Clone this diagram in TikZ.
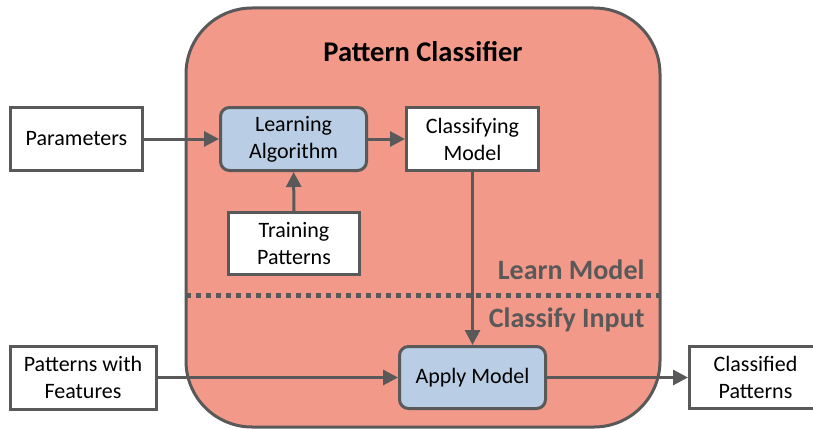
\documentclass[tikz,border=0pt]{standalone}
\usepackage{fontspec}
\setmainfont{Carlito}
\usetikzlibrary{arrows.meta}
\definecolor{salmon}{HTML}{F2998A}
\definecolor{lblue}{HTML}{B9CDE5}
\definecolor{dgray}{HTML}{595959}
\tikzset{
  box/.style={draw=dgray, line width=3pt, fill=white, inner sep=0pt,
    align=center, font=\fontsize{22}{27}\selectfont, text=black},
  rbox/.style={box, fill=lblue, rounded corners=9pt},
  conn/.style={draw=dgray, line width=3pt, -{Triangle[length=15pt,width=15pt]}},
  phase/.style={font=\fontsize{28}{32}\selectfont\bfseries, text=dgray, anchor=east}
}
\begin{document}
\begin{tikzpicture}[x=1pt,y=-1pt]
\useasboundingbox (0,0) rectangle (813,428);
% main container
\draw[draw=dgray, line width=3pt, fill=salmon, rounded corners=66pt] (186,8) rectangle (660,427);
\node[font=\fontsize{28.5}{32}\selectfont\bfseries] (title) at (423,52) {Pattern Classifier};
% nodes
\node[box, minimum width=132pt, minimum height=63pt] (par) at (76.5,139) {Parameters};
\node[rbox, minimum width=146pt, minimum height=63pt] (learn) at (293.5,139) {Learning\\Algorithm};
\node[box, minimum width=132pt, minimum height=63pt] (cmodel) at (472.5,139) {Classifying\\Model};
\node[box, minimum width=131pt, minimum height=62pt] (train) at (294,243.5) {Training\\Patterns};
\node[box, minimum width=146pt, minimum height=63pt] (pwf) at (83,377.5) {Patterns with\\Features};
\node[rbox, minimum width=146pt, minimum height=62pt] (apply) at (472.5,377.5) {Apply Model};
\node[box, minimum width=132pt, minimum height=62pt] (cpat) at (755.5,377.5) {Classified\\Patterns};
% phase labels and separator
\coordinate (sepL) at (186,295);
\coordinate (sepR) at (660,295);
\draw[dgray, line width=5pt, dash pattern=on 5pt off 5pt] (sepL) -- (sepR);
\node[phase] (lm) at (648,270) {Learn Model};
\node[phase] (ci) at (648,320) {Classify Input};
% connectors
\draw[conn] (par) -- (learn);
\draw[conn] (learn) -- (cmodel);
\draw[conn] (train) -- (learn);
\draw[conn] (cmodel) -- (apply);
\draw[conn] (pwf) -- (apply);
\draw[conn] (apply) -- (cpat);
\end{tikzpicture}
\end{document}
